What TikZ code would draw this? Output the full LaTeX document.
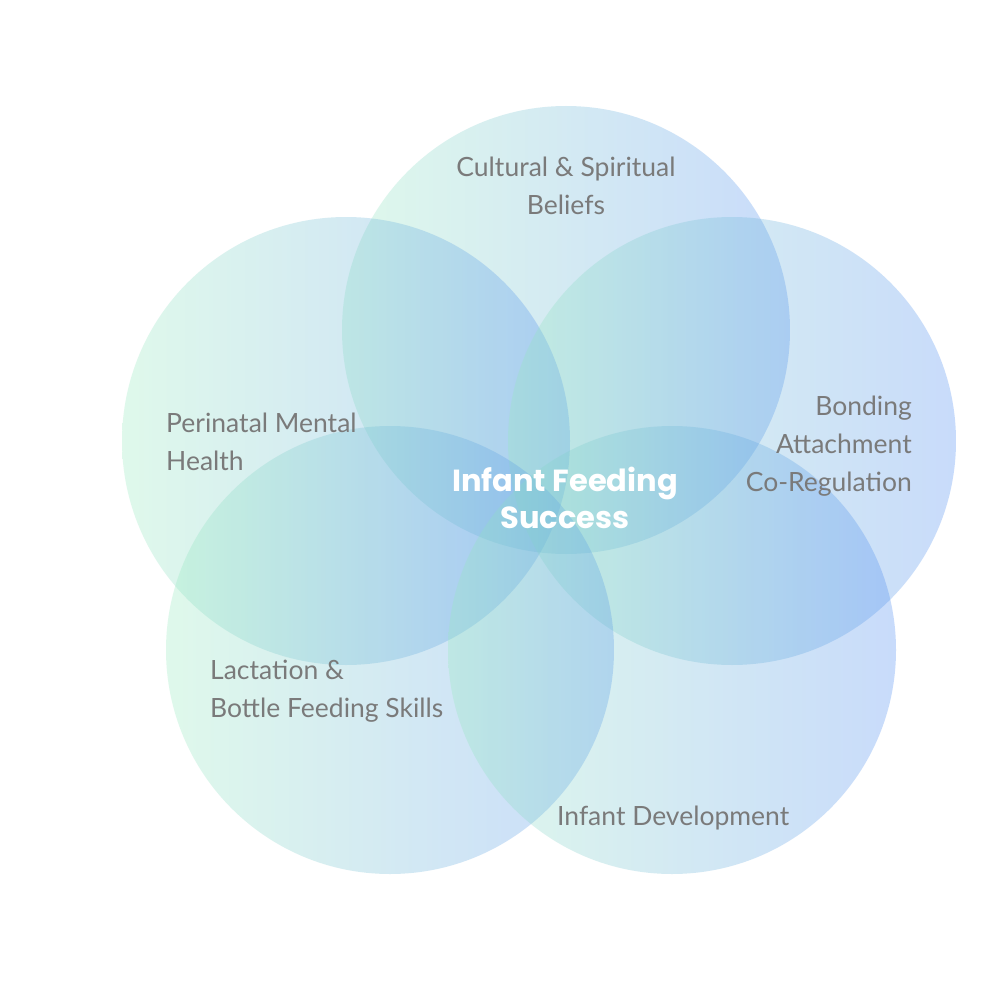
\documentclass[tikz,border=0pt]{standalone}
\usepackage{fontspec}
\setmainfont{Lato}
\newfontfamily\titlefont{Poppins}
\definecolor{cgreen}{RGB}{150,235,190}
\definecolor{cblue}{RGB}{75,138,242}
\definecolor{labelgray}{RGB}{122,122,122}
\tikzset{
  bubble/.style={left color=cgreen, right color=cblue, opacity=0.3},
  lbl/.style={text=labelgray, font=\fontsize{26.5}{38}\selectfont, inner sep=0pt},
  ttl/.style={text=white, font=\titlefont\bfseries\fontsize{30.5}{37}\selectfont, inner sep=0pt, align=center}
}
\begin{document}
\begin{tikzpicture}[x=1pt,y=-1pt]
\useasboundingbox (0,0) rectangle (1000,1003);
\fill[white] (0,0) rectangle (1000,1003);
\shade[bubble] (566,330) circle (224);
\shade[bubble] (346,441) circle (224);
\shade[bubble] (732,441) circle (224);
\shade[bubble] (390,650) circle (224);
\shade[bubble] (672,650) circle (224);
\node[lbl, align=center, anchor=north] (cult) at (566,157) {Cultural \& Spiritual\\Beliefs};
\node[lbl, align=left, anchor=north west] (peri) at (166,413) {Perinatal Mental\\Health};
\node[lbl, align=right, anchor=north east] (bond) at (912,396) {Bonding\hspace{7pt}\\Attachment\\Co-Regulation};
\node[lbl, align=left, anchor=north west] (lact) at (210,660) {Lactation \&\\Bottle Feeding Skills};
\node[lbl, anchor=west] (dev) at (557,818) {Infant Development};
\node[ttl] (title) at (565,497.5) {Infant Feeding\\Success};
\end{tikzpicture}
\end{document}
